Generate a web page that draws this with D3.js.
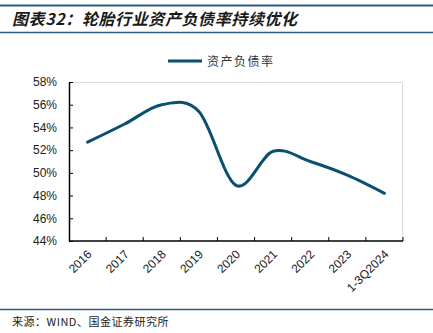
<!DOCTYPE html>
<html><head><meta charset="utf-8">
<script src="https://cdn.jsdelivr.net/npm/d3@7"></script>
<style>
html,body{margin:0;padding:0;background:#fff;}
svg{display:block;}
</style></head>
<body>
<svg id="chart" width="433" height="333"></svg>
<script>
const categories = ["2016","2017","2018","2019","2020","2021","2022","2023","1-3Q2024"];
const debtRatio = [52.7, 54.3, 56.0, 55.4, 48.9, 51.9, 51.0, 49.8, 48.2];
const yTicks = [44, 46, 48, 50, 52, 54, 56, 58];
const seriesName = "资产负债率";
const titleText = "图表32：轮胎行业资产负债率持续优化";
const sourceText = "来源：WIND、国金证券研究所";

const svg = d3.select("#chart");
const W = 433, H = 333;
const m = {left: 69, right: 30, top: 82, bottom: 92};
const lineColor = "#0a4f70";
const barColor = "#2a5c82";

// header
svg.append("line").attr("x1",0).attr("x2",W).attr("y1",5.5).attr("y2",5.5)
  .attr("stroke",barColor).attr("stroke-width",2);
svg.append("line").attr("x1",0).attr("x2",W).attr("y1",32.5).attr("y2",32.5)
  .attr("stroke",barColor).attr("stroke-width",1.5);
svg.append("text").attr("x",12).attr("y",25)
  .attr("font-family","'Noto Sans CJK SC', sans-serif")
  .attr("font-size",16).attr("font-weight","bold").attr("font-style","italic")
  .attr("letter-spacing",0.6)
  .attr("fill","#1a1a1a").text(titleText);

// footer
svg.append("line").attr("x1",0).attr("x2",W).attr("y1",309.5).attr("y2",309.5)
  .attr("stroke",barColor).attr("stroke-width",1.5);
svg.append("text").attr("x",12).attr("y",326)
  .attr("font-family","'Noto Sans CJK SC', sans-serif")
  .attr("font-size",11).attr("letter-spacing",0.5).attr("fill","#222").text(sourceText);

const x = d3.scaleBand().domain(categories).range([m.left, W - m.right]).padding(0);
const y = d3.scaleLinear().domain([44, 58]).range([H - m.bottom, m.top]);

// plot border (light)
svg.append("path")
  .attr("d", `M${m.left},${m.top + 0.5}H${W - m.right - 0.5}V${H - m.bottom}`)
  .attr("fill","none").attr("stroke","#d9d9d9").attr("stroke-width",1);

// y axis
const yAxis = svg.append("g").attr("transform",`translate(${m.left},0)`)
  .call(d3.axisLeft(y).tickValues(yTicks).tickSize(4).tickSizeOuter(0).tickFormat(d => d + "%"));
yAxis.select(".domain").attr("stroke","#000").attr("stroke-width",1.5);
yAxis.selectAll(".tick line").attr("stroke","#000").attr("x2",4).attr("stroke-width",1);
yAxis.selectAll(".tick text").attr("x",-12)
  .attr("font-family","'Liberation Sans', Arial, sans-serif").attr("font-size",12).attr("fill","#222");

// x axis with ticks between categories
const boundaries = categories.map(c => x(c)).concat([x.range()[1]]);
const xg = svg.append("g").attr("transform",`translate(0,${H - m.bottom})`);
xg.append("line").attr("x1",m.left).attr("x2",W - m.right).attr("stroke","#000").attr("stroke-width",1.5);
xg.selectAll("line.tk").data(boundaries.slice(1)).join("line").attr("class","tk")
  .attr("x1",d=>d).attr("x2",d=>d).attr("y1",0).attr("y2",-4).attr("stroke","#000");
xg.selectAll("text").data(categories).join("text")
  .attr("transform", d => `translate(${x(d) + x.bandwidth()/2 + 2},${11}) rotate(-45)`)
  .attr("text-anchor","end").attr("dy","0.35em")
  .attr("font-family","'Liberation Sans', Arial, sans-serif").attr("font-size",12).attr("fill","#222")
  .text(d => d);

// line
const line = d3.line()
  .x((d,i) => x(categories[i]) + x.bandwidth()/2)
  .y(d => y(d))
  .curve(d3.curveCardinal.tension(0));
svg.append("path").datum(debtRatio).attr("d", line)
  .attr("fill","none").attr("stroke",lineColor).attr("stroke-width",3).attr("stroke-linecap","round");

// legend
svg.append("line").attr("x1",168).attr("x2",202).attr("y1",61).attr("y2",61)
  .attr("stroke",lineColor).attr("stroke-width",3);
svg.append("text").attr("x",207).attr("y",65.5)
  .attr("font-family","'Noto Sans CJK SC', sans-serif").attr("font-size",12)
  .attr("letter-spacing",1.5).attr("fill","#333").text(seriesName);
</script>
</body></html>
